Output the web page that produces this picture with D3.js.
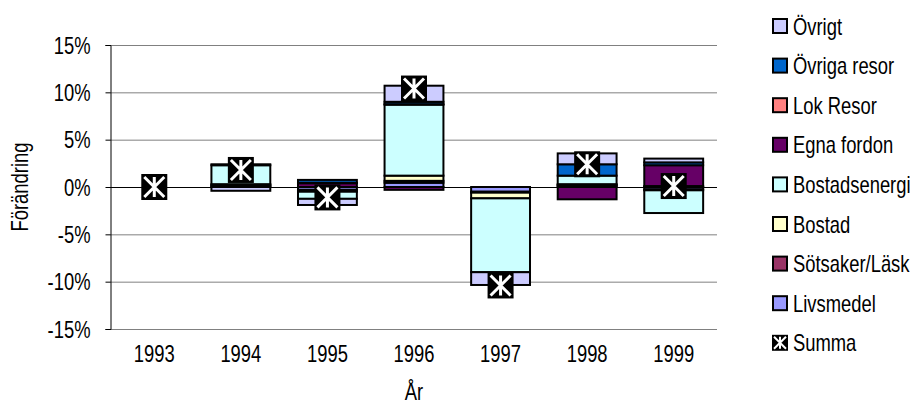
<!DOCTYPE html>
<html>
<head>
<meta charset="utf-8">
<script src="https://cdn.jsdelivr.net/npm/d3@7"></script>
<style>
  body { margin: 0; background: #fff; }
  svg text { font-family: "Liberation Sans", Arial, sans-serif; fill: #000; }
</style>
</head>
<body>
<svg id="chart" width="914" height="412"></svg>
<script>
// categories
var years = ["1993", "1994", "1995", "1996", "1997", "1998", "1999"];

// series (in stacking order, bottom first)
var seriesNames = ["Livsmedel", "Sötsaker/Läsk", "Bostad", "Bostadsenergi", "Egna fordon", "Lok Resor", "Övriga resor", "Övrigt"];
var seriesColors = ["#9999FF", "#993366", "#FFFFCC", "#CCFFFF", "#660066", "#FF8080", "#0066CC", "#CCCCFF"];

// values, % change
var livsmedel     = [0,  0.1, -0.3,  0.45, -0.5,  0.15, -0.25];
var sotsaker      = [0,  0.1,  0.0,  0.2,  -0.1,  0.05,  0.1];
var bostad        = [0,  0.1, -0.2,  0.55, -0.6,  0.1,  -0.1];
var bostadsenergi = [0,  2.0, -0.75, 7.5,  -7.8,  0.9,  -2.4];
var egnaFordon    = [0,  0.0,  0.4, -0.3,   0.0, -1.3,   2.2];
var lokResor      = [0,  0.0,  0.05, 0.05,  0.0,  0.0,   0.0];
var ovrigaResor   = [0,  0.1,  0.3,  0.25,  0.0,  1.2,   0.3];
var ovrigt        = [0, -0.4, -0.65, 1.7,  -1.35, 1.15,  0.4];
var summa         = [0,  1.8, -1.1, 10.4, -10.4,  2.4,   0.1];

var yTicks = [-15, -10, -5, 0, 5, 10, 15];

var seriesValues = [livsmedel, sotsaker, bostad, bostadsenergi, egnaFordon, lokResor, ovrigaResor, ovrigt];

// rows for d3.stack
var rows = years.map(function(y, i) {
  var r = { year: y };
  seriesNames.forEach(function(n, s) { r[n] = seriesValues[s][i]; });
  return r;
});

var svg = d3.select("#chart");
var fontSize = "23px";
var squeeze = 0.8;

// no condensed font installed, so squeeze the glyphs horizontally
function narrow(sel) {
  sel.each(function() {
    var t = d3.select(this);
    var x0 = +t.attr("x") || 0;
    var tr = t.attr("transform") || "";
    t.attr("x", x0 / squeeze)
     .attr("transform", tr + " scale(" + squeeze + ",1)");
  });
}

var x = d3.scaleBand()
  .domain(years)
  .range([111, 717])
  .paddingInner(0.32)
  .paddingOuter(0.16);

var y = d3.scaleLinear()
  .domain([-15, 15])
  .range([329, 45]);

var axisLeft = 110, plotRight = 717;

// gridlines
svg.append("g")
  .selectAll("line")
  .data(yTicks.filter(function(d) { return d != 0; }))
  .enter().append("line")
    .attr("x1", axisLeft).attr("x2", plotRight)
    .attr("y1", d => y(d) + 0.5).attr("y2", d => y(d) + 0.5)
    .attr("stroke", "#808080")
    .attr("stroke-width", 1);

// stacked bars
var stack = d3.stack()
  .keys(seriesNames)
  .order(d3.stackOrderNone)
  .offset(d3.stackOffsetDiverging);
var stacked = stack(rows);

svg.append("g")
  .selectAll("g")
  .data(stacked)
  .enter().append("g")
    .attr("fill", (d, i) => seriesColors[i])
  .selectAll("rect")
  .data(d => d.filter(p => p[1] - p[0] != 0))
  .enter().append("rect")
    .attr("x", d => x(d.data.year))
    .attr("width", x.bandwidth())
    .attr("y", d => y(Math.max(d[0], d[1])))
    .attr("height", d => Math.abs(y(d[0]) - y(d[1])))
    .attr("stroke", "#000")
    .attr("stroke-width", 2);

// y axis
var yAxis = svg.append("g")
  .attr("transform", "translate(" + (axisLeft + 0.5) + ",0)")
  .call(d3.axisLeft(y).tickValues(yTicks).tickSize(5).tickPadding(15).tickFormat(d => d + "%"));
yAxis.select(".domain").attr("stroke", "#000");
yAxis.attr("font-family", null).attr("font-size", null);
yAxis.selectAll("text")
  .attr("dy", "0.36em")
  .style("font-size", fontSize)
  .call(narrow);

// category axis at zero
svg.append("line")
  .attr("x1", axisLeft).attr("x2", plotRight)
  .attr("y1", y(0) + 0.5).attr("y2", y(0) + 0.5)
  .attr("stroke", "#000");

// category labels at the bottom
svg.append("g")
  .selectAll("text")
  .data(years)
  .enter().append("text")
    .attr("x", d => x(d) + x.bandwidth() / 2)
    .attr("y", 362)
    .attr("text-anchor", "middle")
    .style("font-size", fontSize)
    .text(d => d)
    .call(narrow);

// Summa markers
function drawStar(g, r, half) {
  g.append("rect")
    .attr("x", -half).attr("y", -half)
    .attr("width", half * 2).attr("height", half * 2)
    .attr("fill", "#000");
  var w = half > 10 ? 3 : 2;
  g.append("path")
    .attr("d", "M" + (-r) + "," + (-r) + "L" + r + "," + r +
               "M" + (-r) + "," + r + "L" + r + "," + (-r) +
               "M0," + (-r) + "L0," + r)
    .attr("stroke", "#fff")
    .attr("stroke-width", w);
}

svg.append("g")
  .selectAll("g")
  .data(summa)
  .enter().append("g")
    .attr("transform", (d, i) => "translate(" + (x(years[i]) + x.bandwidth() / 2) + "," + y(d) + ")")
    .each(function() { drawStar(d3.select(this), 10, 13); });

// axis titles
svg.append("text")
  .attr("transform", "translate(28,187) rotate(-90)")
  .attr("text-anchor", "middle")
  .style("font-size", fontSize)
  .text("Förändring")
  .call(narrow);

svg.append("text")
  .attr("x", 414)
  .attr("y", 400)
  .attr("text-anchor", "middle")
  .style("font-size", fontSize)
  .text("År")
  .call(narrow);

// legend (reverse order, Summa last)
var legend = svg.append("g");
var legendItems = seriesNames.map((n, i) => ({ name: n, color: seriesColors[i] })).reverse();
legendItems.push({ name: "Summa", color: null });

var item = legend.selectAll("g")
  .data(legendItems)
  .enter().append("g")
    .attr("transform", (d, i) => "translate(780," + (26 + i * 39.6) + ")");

item.each(function(d) {
  var g = d3.select(this);
  if (d.color) {
    g.append("rect")
      .attr("x", -7).attr("y", -7)
      .attr("width", 14).attr("height", 14)
      .attr("fill", d.color)
      .attr("stroke", "#000")
      .attr("stroke-width", 2);
  } else {
    drawStar(g, 6, 8);
  }
});

item.append("text")
  .attr("x", 13)
  .attr("y", 8.5)
  .style("font-size", fontSize)
  .text(d => d.name)
  .call(narrow);
</script>
</body>
</html>
